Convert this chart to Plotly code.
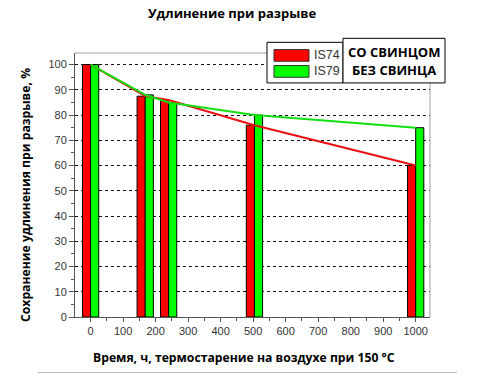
import plotly.graph_objects as go

# Data
hours = [0, 168, 240, 504, 1000]
is74 = [100, 87.5, 86, 76, 60]
is79 = [100, 88, 85, 80, 75]
series_names = ["IS74", "IS79"]
legend_notes = ["СО СВИНЦОМ", "БЕЗ СВИНЦА"]
y_ticks = list(range(0, 101, 10))
x_ticks = list(range(0, 1001, 100))

W, H = 494, 384
L, R, T, B = 75, 430, 52.7, 317.3


def px(x):
    return (x - L) / (R - L)


def py(y):
    return (B - y) / (B - T)


RED = "#ff0000"
GREEN = "#00ff00"

fig = go.Figure()
fig.add_trace(go.Bar(x=hours, y=is74, width=25, offset=-25, name=series_names[0],
                     marker=dict(color=RED, line=dict(color="black", width=1)), showlegend=False))
fig.add_trace(go.Bar(x=hours, y=is79, width=25, offset=0, name=series_names[1],
                     marker=dict(color=GREEN, line=dict(color="black", width=1)), showlegend=False))
fig.add_trace(go.Scatter(x=hours, y=is74, mode="lines", line=dict(color="#e81010", width=2), showlegend=False))
fig.add_trace(go.Scatter(x=hours, y=is79, mode="lines", line=dict(color="#10e010", width=2), showlegend=False))

tickfont = dict(family="Liberation Sans, Arial", size=11, color="#333333")

fig.update_layout(
    width=W, height=H,
    margin=dict(l=L, r=W - R, t=T, b=H - B),
    paper_bgcolor="white", plot_bgcolor="white",
    barmode="overlay",
    xaxis=dict(range=[-48, 1044], tickvals=x_ticks, showgrid=False, zeroline=False,
               showline=True, linecolor="#555555", linewidth=1,
               ticks="outside", ticklen=4, tickcolor="#555555", tickfont=tickfont,
               minor=dict(dtick=50, tick0=0, ticks="outside", ticklen=3, tickcolor="#555555", showgrid=False)),
    yaxis=dict(range=[0, 104.6], tickvals=y_ticks, showgrid=True, gridcolor="#111111",
               griddash="dot", gridwidth=1, zeroline=False,
               showline=True, linecolor="#555555", linewidth=1,
               ticks="outside", ticklen=5, tickcolor="#555555", tickfont=tickfont,
               minor=dict(dtick=5, tick0=0, ticks="outside", ticklen=3, tickcolor="#555555", showgrid=False)),
)

shapes = []
# frame top/right
shapes.append(dict(type="line", xref="paper", yref="paper", x0=0, x1=1, y0=1, y1=1,
                   line=dict(color="#a0a0a0", width=1)))
shapes.append(dict(type="line", xref="paper", yref="paper", x0=1, x1=1, y0=0, y1=1,
                   line=dict(color="#a0a0a0", width=1)))
# bottom separator line
shapes.append(dict(type="line", xref="paper", yref="paper", x0=px(38), x1=px(457), y0=py(373), y1=py(373),
                   line=dict(color="#b8b8b8", width=1)))
# legend boxes
shapes.append(dict(type="rect", xref="paper", yref="paper", x0=px(267), x1=px(343), y0=py(82.7), y1=py(42),
                   line=dict(color="black", width=1), fillcolor="white", layer="above"))
shapes.append(dict(type="rect", xref="paper", yref="paper", x0=px(343), x1=px(445), y0=py(82.7), y1=py(38),
                   line=dict(color="black", width=1), fillcolor="white", layer="above"))
# legend swatches
shapes.append(dict(type="rect", xref="paper", yref="paper", x0=px(274), x1=px(309), y0=py(61), y1=py(49.3),
                   line=dict(color="#333333", width=1), fillcolor=RED, layer="above"))
shapes.append(dict(type="rect", xref="paper", yref="paper", x0=px(274), x1=px(309), y0=py(77), y1=py(65.3),
                   line=dict(color="#333333", width=1), fillcolor=GREEN, layer="above"))
fig.update_layout(shapes=shapes)

ann = []
ann.append(dict(text="<b>Удлинение при разрыве</b>", xref="paper", yref="paper", x=px(232), y=py(13),
                showarrow=False, xanchor="center", yanchor="middle",
                font=dict(family="Open Sans, Noto Sans", size=13, color="black")))
ann.append(dict(text="<b>Время, ч, термостарение на воздухе при 150 °C</b>", xref="paper", yref="paper",
                x=px(244), y=py(358), showarrow=False, xanchor="center", yanchor="middle",
                font=dict(family="Open Sans, Noto Sans", size=12.2, color="black")))
ann.append(dict(text="<b>Сохранение удлинения при разрыве, %</b>", xref="paper", yref="paper",
                x=px(26), y=py(195), showarrow=False, xanchor="center", yanchor="middle", textangle=-90,
                font=dict(family="Open Sans, Noto Sans", size=12.2, color="black")))
for i, (nm, yy) in enumerate(zip(series_names, [55, 71])):
    ann.append(dict(text=nm, xref="paper", yref="paper", x=px(312), y=py(yy), showarrow=False,
                    xanchor="left", yanchor="middle",
                    font=dict(family="Liberation Sans, Arial", size=12.5, color="#333333")))
for nt, yy in zip(legend_notes, [52, 70]):
    ann.append(dict(text=f"<b>{nt}</b>", xref="paper", yref="paper", x=px(394), y=py(yy), showarrow=False,
                    xanchor="center", yanchor="middle",
                    font=dict(family="Open Sans, Noto Sans", size=13, color="black")))
fig.update_layout(annotations=ann)

fig.write_html("out.html", config={"displayModeBar": False},
               post_script="document.body.style.margin='0';")
